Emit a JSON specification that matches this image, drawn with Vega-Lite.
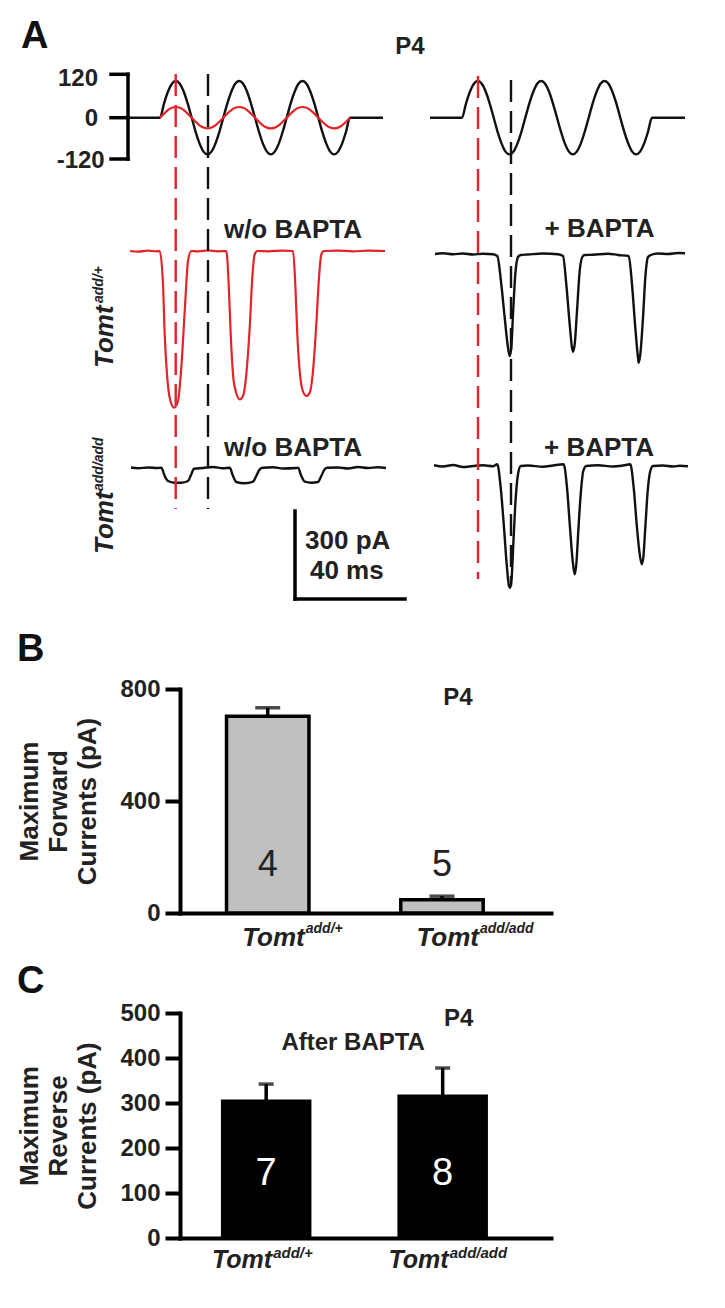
{
  "$schema": "https://vega.github.io/schema/vega-lite/v6.json",
  "padding": {"left": 16, "top": 0, "right": 0, "bottom": 0},
  "background": "white",
  "bounds": "flush",
  "spacing": 100,
  "config": {
    "font": "Liberation Sans",
    "view": {"stroke": "transparent"},
    "text": {"font": "Liberation Sans", "color": "#222"},
    "title": {"font": "Liberation Sans", "color": "#222"},
    "axis": {"labelFont": "Liberation Sans", "titleFont": "Liberation Sans", "grid": false, "domainWidth": 4, "tickWidth": 4, "domainColor": "#000", "tickColor": "#000", "domainCap": "square"}
  },
  "datasets": {
    "traces": [
      {"s": "stimL",
       "x": [130,162,166.0,169.9,173.9,177.8,181.8,185.8,189.7,193.7,197.6,201.6,205.5,209.5,213.5,217.4,221.4,225.3,229.3,233.3,237.2,241.2,245.1,249.1,253.0,257.0,261.0,264.9,268.9,272.8,276.8,280.8,284.7,288.7,292.6,296.6,300.5,304.5,308.5,312.4,316.4,320.3,324.3,328.3,332.2,336.2,340.1,344.1,348.0,352.0,385],
       "y": [116.7,116.7,102.6,90.8,82.8,80.0,82.8,90.8,102.6,116.7,130.8,142.6,150.6,153.4,150.6,142.6,130.8,116.7,102.6,90.8,82.8,80.0,82.8,90.8,102.6,116.7,130.8,142.6,150.6,153.4,150.6,142.6,130.8,116.7,102.6,90.8,82.8,80.0,82.8,90.8,102.6,116.7,130.8,142.6,150.6,153.4,150.6,142.6,130.8,116.7,116.7]},
      {"s": "stimR",
       "x": [432,464,468.0,471.9,475.9,479.8,483.8,487.8,491.7,495.7,499.6,503.6,507.5,511.5,515.5,519.4,523.4,527.3,531.3,535.3,539.2,543.2,547.1,551.1,555.0,559.0,563.0,566.9,570.9,574.8,578.8,582.8,586.7,590.7,594.6,598.6,602.5,606.5,610.5,614.4,618.4,622.3,626.3,630.3,634.2,638.2,642.1,646.1,650.0,654.0,687],
       "y": [116.7,116.7,102.6,90.8,82.8,80.0,82.8,90.8,102.6,116.7,130.8,142.6,150.6,153.4,150.6,142.6,130.8,116.7,102.6,90.8,82.8,80.0,82.8,90.8,102.6,116.7,130.8,142.6,150.6,153.4,150.6,142.6,130.8,116.7,102.6,90.8,82.8,80.0,82.8,90.8,102.6,116.7,130.8,142.6,150.6,153.4,150.6,142.6,130.8,116.7,116.7]},
      {"s": "blkTop",
       "x": [437,445,455,465,475,485,495,499.3,503.3,506.7,510,511.7,513.3,515,517.3,520,522.7,530,545,560,565,568.3,571.7,574,575,576.7,579,581.7,584.3,586.7,595,610,620,630.7,634,637.3,640,640.7,642.3,645,647.3,650,652.7,660,670,680,687],
       "y": [253,252.3,253.3,252.5,253.5,252.8,253.3,255,283.3,316.7,346.7,355,346.7,313.3,273.3,256,254,253.5,252.5,253.3,255,283.3,323.3,346.7,350.7,343.3,310,270,256,254,253.8,252.7,254,255,283.3,326.7,356.7,361.7,353.3,316.7,276.7,256,254,252.5,253,252,252.3]},
      {"s": "blkBotL",
       "x": [133,140,150,160,163.3,166.7,170,176.7,183.3,190,193.3,196,205,215,225,231.7,235,238.3,246.7,255,258.3,261.7,265,275,285,298.3,300,303.3,306.7,313.3,320,323.3,326.7,329.3,340,350,360,370,380,388],
       "y": [466.5,467.3,466.5,467,466.7,475,480,481.7,481.7,480,473.3,467.7,467,466,467.3,466.7,475,481,482.3,480.7,475,468.3,466.7,466.3,467.5,467,466.7,475,480.7,481.7,481,475,468.3,466.7,466.5,467.5,466,467,466.2,467]},
      {"s": "blkBotR",
       "x": [436,445,455,465,475,485,495,499.3,502.7,506,508.7,511,512.3,513.7,515.3,517.3,520,522.7,530,545,555,565.7,569,572,574.7,576.7,578.3,580.3,582.7,585.3,588.3,600,615,625,632.3,635.7,638.7,641.3,643.7,645.3,647.3,649.7,652.3,655,665,675,682,690],
       "y": [464.3,465.5,464,466,465,464.3,465.3,463.3,486.7,526.7,563.3,585,586.7,576.7,543.3,503.3,473.3,465,464.5,465.8,464.5,463.3,486.7,526.7,560,573.3,563.3,530,493.3,470,465,464.3,465.5,464.5,463.3,486.7,523.3,550,563.3,556.7,526.7,490,470,465,464.5,465.5,464.7,465.3]},
      {"s": "stimLr",
       "x": [162,166.0,169.9,173.9,177.8,181.8,185.8,189.7,193.7,197.6,201.6,205.5,209.5,213.5,217.4,221.4,225.3,229.3,233.3,237.2,241.2,245.1,249.1,253.0,257.0,261.0,264.9,268.9,272.8,276.8,280.8,284.7,288.7,292.6,296.6,300.5,304.5,308.5,312.4,316.4,320.3,324.3,328.3,332.2,336.2,340.1,344.1,348.0,352.0],
       "y": [116.7,112.6,109.1,106.8,106.0,106.8,109.1,112.6,116.7,120.8,124.3,126.6,127.4,126.6,124.3,120.8,116.7,112.6,109.1,106.8,106.0,106.8,109.1,112.6,116.7,120.8,124.3,126.6,127.4,126.6,124.3,120.8,116.7,112.6,109.1,106.8,106.0,106.8,109.1,112.6,116.7,120.8,124.3,126.6,127.4,126.6,124.3,120.8,116.7]},
      {"s": "redTop",
       "x": [132,140,150,158,161.7,165,166.7,169,171.7,176,180,183.3,187.3,190,193.3,200,210,220,228.3,230.7,232.7,235,237.7,241.7,245,248.3,251.7,254.3,256.7,259.3,270,285,295,297.3,299.3,301.7,304.3,308.3,311.7,315,318.3,321,323.3,326,340,355,370,387],
       "y": [250,250.6,249.6,250.4,250,283.3,333.3,373.3,396.7,406.7,400,366.7,300,260,250,250.4,249.5,250.3,250,283.3,333.3,373.3,390,398.3,395,373.3,326.7,276.7,253.3,250,250.3,249.6,250,283.3,333.3,370,388.3,395,391.7,370,323.3,276.7,253.3,250,249.6,250.3,249.7,250]}
    ],
    "segs": [
      {"x": 130, "y": 73.3, "x2": 130, "y2": 158},
      {"x": 113, "y": 73.3, "x2": 130, "y2": 73.3},
      {"x": 113, "y": 116.7, "x2": 130, "y2": 116.7},
      {"x": 113, "y": 158, "x2": 130, "y2": 158},
      {"x": 297, "y": 510, "x2": 297, "y2": 598},
      {"x": 297, "y": 598, "x2": 407, "y2": 598}
    ],
    "dashes": [
      {"s": "redDash", "x": 177.7, "y": 73, "x2": 177.7, "y2": 508},
      {"s": "blkDash", "x": 210, "y": 73, "x2": 210, "y2": 508},
      {"s": "redDash", "x": 480, "y": 75, "x2": 480, "y2": 578},
      {"s": "blkDash", "x": 513, "y": 79, "x2": 513, "y2": 585}
    ]
  },
  "vconcat": [
    {
      "width": 543,
      "height": 588,
      "encoding": {
        "x": {"field": "x", "type": "quantitative", "scale": {"domain": [182, 725], "nice": false, "zero": false}, "axis": null},
        "y": {"field": "y", "type": "quantitative", "scale": {"domain": [0, 588], "nice": false, "zero": false, "reverse": true}, "axis": null}
      },
      "layer": [
        {
          "data": {"name": "traces"},
          "transform": [{"filter": {"field": "s", "oneOf": ["stimL", "stimR", "blkTop", "blkBotL", "blkBotR"]}}, {"flatten": ["x", "y"]}],
          "mark": {"type": "line", "strokeWidth": 2.4, "interpolate": "monotone"},
          "encoding": {"color": {"field": "s", "type": "nominal", "legend": null,
            "scale": {"domain": ["stimL","stimR","blkTop","blkBotL","blkBotR","blkDash","stimLr","redTop","redDash"], "range": ["#111","#111","#111","#111","#111","#111","#e2232a","#e2232a","#e2232a"]}}}
        },
        {
          "data": {"name": "traces"},
          "transform": [{"filter": {"field": "s", "oneOf": ["stimLr", "redTop"]}}, {"flatten": ["x", "y"]}],
          "mark": {"type": "line", "strokeWidth": 2.2, "interpolate": "monotone"},
          "encoding": {"color": {"field": "s", "type": "nominal", "legend": null,
            "scale": {"domain": ["stimL","stimR","blkTop","blkBotL","blkBotR","blkDash","stimLr","redTop","redDash"], "range": ["#111","#111","#111","#111","#111","#111","#e2232a","#e2232a","#e2232a"]}}}
        },
        {
          "data": {"name": "segs"},
          "mark": {"type": "rule", "strokeWidth": 3.5, "color": "#000", "strokeCap": "square"},
          "encoding": {"x2": {"field": "x2"}, "y2": {"field": "y2"}}
        },
        {
          "data": {"name": "dashes"},
          "mark": {"type": "rule", "strokeWidth": 2.4, "strokeDash": [22, 9]},
          "encoding": {"x2": {"field": "x2"}, "y2": {"field": "y2"},
            "color": {"field": "s", "type": "nominal", "legend": null,
              "scale": {"domain": ["stimL","stimR","blkTop","blkBotL","blkBotR","blkDash","stimLr","redTop","redDash"], "range": ["#111","#111","#111","#111","#111","#111","#e2232a","#e2232a","#e2232a"]}}}
        },
        {
          "data": {"values": [{"t": "A", "x": 23, "y": 47}]},
          "mark": {"type": "text", "fontSize": 38, "fontWeight": "bold", "align": "left", "baseline": "alphabetic", "color": "#111"},
          "encoding": {"text": {"field": "t"}}
        },
        {
          "data": {"values": [{"t": "P4", "x": 412, "y": 53}]},
          "mark": {"type": "text", "fontSize": 24, "fontWeight": "bold", "align": "center", "baseline": "alphabetic"},
          "encoding": {"text": {"field": "t"}}
        },
        {
          "data": {"values": [{"t": "120", "x": 100, "y": 85}, {"t": "0", "x": 100, "y": 124.7}, {"t": "-120", "x": 106.7, "y": 166.7}]},
          "mark": {"type": "text", "fontSize": 24, "fontWeight": "bold", "align": "right", "baseline": "alphabetic"},
          "encoding": {"text": {"field": "t"}}
        },
        {
          "data": {"values": [
            {"t": "w/o BAPTA", "x": 295, "y": 236.7},
            {"t": "+ BAPTA", "x": 601.5, "y": 235.7},
            {"t": "w/o BAPTA", "x": 295, "y": 455},
            {"t": "+ BAPTA", "x": 601, "y": 455},
            {"t": "300 pA", "x": 349.7, "y": 548.3},
            {"t": "40 ms", "x": 348.8, "y": 578.3}
          ]},
          "mark": {"type": "text", "fontSize": 26, "fontWeight": "bold", "align": "center", "baseline": "alphabetic"},
          "encoding": {"text": {"field": "t"}}
        },
        {
          "data": {"values": [{"t": "Tomt", "x": 115, "y": 367}, {"t": "Tomt", "x": 115, "y": 553}]},
          "mark": {"type": "text", "fontSize": 26, "fontWeight": "bold", "fontStyle": "italic", "angle": 270, "align": "left", "baseline": "alphabetic"},
          "encoding": {"text": {"field": "t"}}
        },
        {
          "data": {"values": [{"t": "add/+", "x": 105, "y": 302}, {"t": "add/add", "x": 105, "y": 490}]},
          "mark": {"type": "text", "fontSize": 14, "fontWeight": "bold", "fontStyle": "italic", "angle": 270, "align": "left", "baseline": "alphabetic"},
          "encoding": {"text": {"field": "t"}}
        }
      ]
    },
    {
      "width": 371,
      "height": 224,
      "title": {"text": "B", "anchor": "start", "frame": "bounds", "fontSize": 38, "fontWeight": "bold", "offset": 8, "color": "#111"},
      "data": {"values": [
        {"g": "add/+", "mean": 703, "upper": 733, "n": "4"},
        {"g": "add/add", "mean": 47.5, "upper": 60, "n": "5"}
      ]},
      "encoding": {
        "x": {"field": "g", "type": "nominal", "scale": {"paddingInner": 0.527, "paddingOuter": 0.328, "align": 0.407},
          "axis": {"labels": false, "ticks": false, "title": null, "domainWidth": 4, "domainColor": "#000", "domainCap": "square"}}
      },
      "layer": [
        {
          "mark": {"type": "bar", "fill": "#c0c0c0", "stroke": "#000", "strokeWidth": 3.5},
          "encoding": {
            "y": {"field": "mean", "type": "quantitative", "scale": {"domain": [0, 800], "nice": false},
              "axis": {"values": [0, 400, 800], "tickSize": 15, "tickWidth": 4, "tickColor": "#000", "domainWidth": 4, "domainColor": "#000", "domainCap": "square",
                "labelFontSize": 24, "labelFontWeight": "bold", "labelPadding": 5, "labelColor": "#222", "labelOverlap": false,
                "title": ["Maximum", "Forward", "Currents (pA)"], "titleFontSize": 26, "titleFontWeight": "bold", "titleLineHeight": 29, "titlePadding": 19, "titleColor": "#222"}}
          }
        },
        {
          "mark": {"type": "rule", "strokeWidth": 3.5, "color": "#000"},
          "encoding": {
            "y": {"field": "mean", "type": "quantitative", "scale": {"domain": [0, 800], "nice": false},
              "axis": {"values": [0, 400, 800], "tickSize": 15, "tickWidth": 4, "tickColor": "#000", "domainWidth": 4, "domainColor": "#000", "domainCap": "square",
                "labelFontSize": 24, "labelFontWeight": "bold", "labelPadding": 5, "labelColor": "#222", "labelOverlap": false,
                "title": ["Maximum", "Forward", "Currents (pA)"], "titleFontSize": 26, "titleFontWeight": "bold", "titleLineHeight": 29, "titlePadding": 19, "titleColor": "#222"}},
            "y2": {"field": "upper"}
          }
        },
        {
          "mark": {"type": "tick", "size": 25, "thickness": 3.5, "color": "#000"},
          "encoding": {
            "y": {"field": "upper", "type": "quantitative", "scale": {"domain": [0, 800], "nice": false},
              "axis": {"values": [0, 400, 800], "tickSize": 15, "tickWidth": 4, "tickColor": "#000", "domainWidth": 4, "domainColor": "#000", "domainCap": "square",
                "labelFontSize": 24, "labelFontWeight": "bold", "labelPadding": 5, "labelColor": "#222", "labelOverlap": false,
                "title": ["Maximum", "Forward", "Currents (pA)"], "titleFontSize": 26, "titleFontWeight": "bold", "titleLineHeight": 29, "titlePadding": 19, "titleColor": "#222"}}
          }
        },
        {
          "mark": {"type": "text", "fontSize": 36, "baseline": "middle", "color": "#222"},
          "encoding": {
            "y": {"datum": 170, "type": "quantitative", "scale": {"domain": [0, 800], "nice": false},
              "axis": {"values": [0, 400, 800], "tickSize": 15, "tickWidth": 4, "tickColor": "#000", "domainWidth": 4, "domainColor": "#000", "domainCap": "square",
                "labelFontSize": 24, "labelFontWeight": "bold", "labelPadding": 5, "labelColor": "#222", "labelOverlap": false,
                "title": ["Maximum", "Forward", "Currents (pA)"], "titleFontSize": 26, "titleFontWeight": "bold", "titleLineHeight": 29, "titlePadding": 19, "titleColor": "#222"}},
            "text": {"field": "n"}
          }
        },
        {
          "mark": {"type": "text", "text": "Tomt", "fontSize": 26, "fontWeight": "bold", "fontStyle": "italic", "align": "right", "dx": 37, "baseline": "alphabetic"},
          "encoding": {
            "y": {"datum": -119, "type": "quantitative", "scale": {"domain": [0, 800], "nice": false},
              "axis": {"values": [0, 400, 800], "tickSize": 15, "tickWidth": 4, "tickColor": "#000", "domainWidth": 4, "domainColor": "#000", "domainCap": "square",
                "labelFontSize": 24, "labelFontWeight": "bold", "labelPadding": 5, "labelColor": "#222", "labelOverlap": false,
                "title": ["Maximum", "Forward", "Currents (pA)"], "titleFontSize": 26, "titleFontWeight": "bold", "titleLineHeight": 29, "titlePadding": 19, "titleColor": "#222"}}
          }
        },
        {
          "mark": {"type": "text", "fontSize": 14, "fontWeight": "bold", "fontStyle": "italic", "align": "left", "dx": 38, "baseline": "alphabetic"},
          "encoding": {
            "y": {"datum": -72.5, "type": "quantitative", "scale": {"domain": [0, 800], "nice": false},
              "axis": {"values": [0, 400, 800], "tickSize": 15, "tickWidth": 4, "tickColor": "#000", "domainWidth": 4, "domainColor": "#000", "domainCap": "square",
                "labelFontSize": 24, "labelFontWeight": "bold", "labelPadding": 5, "labelColor": "#222", "labelOverlap": false,
                "title": ["Maximum", "Forward", "Currents (pA)"], "titleFontSize": 26, "titleFontWeight": "bold", "titleLineHeight": 29, "titlePadding": 19, "titleColor": "#222"}},
            "text": {"field": "g"}
          }
        },
        {
          "data": {"values": [{"t": "P4", "g": "add/add"}]},
          "mark": {"type": "text", "fontSize": 24, "fontWeight": "bold", "dx": 16, "baseline": "middle"},
          "encoding": {
            "y": {"datum": 767, "type": "quantitative", "scale": {"domain": [0, 800], "nice": false},
              "axis": {"values": [0, 400, 800], "tickSize": 15, "tickWidth": 4, "tickColor": "#000", "domainWidth": 4, "domainColor": "#000", "domainCap": "square",
                "labelFontSize": 24, "labelFontWeight": "bold", "labelPadding": 5, "labelColor": "#222", "labelOverlap": false,
                "title": ["Maximum", "Forward", "Currents (pA)"], "titleFontSize": 26, "titleFontWeight": "bold", "titleLineHeight": 29, "titlePadding": 19, "titleColor": "#222"}},
            "text": {"field": "t"}
          }
        }
      ]
    },
    {
      "width": 371,
      "height": 225,
      "title": {"text": "C", "anchor": "start", "frame": "bounds", "fontSize": 38, "fontWeight": "bold", "offset": 0, "color": "#111"},
      "data": {"values": [
        {"g": "add/+", "mean": 304, "upper": 342, "n": "7"},
        {"g": "add/add", "mean": 315, "upper": 378, "n": "8"}
      ]},
      "encoding": {
        "x": {"field": "g", "type": "nominal", "scale": {"paddingInner": 0.507, "paddingOuter": 0.3045, "align": 0.397},
          "axis": {"labels": false, "ticks": false, "title": null, "domainWidth": 4, "domainColor": "#000", "domainCap": "square"}}
      },
      "layer": [
        {
          "mark": {"type": "bar", "fill": "#000", "stroke": "#000", "strokeWidth": 3.5},
          "encoding": {
            "y": {"field": "mean", "type": "quantitative", "scale": {"domain": [0, 500], "nice": false},
              "axis": {"values": [0, 100, 200, 300, 400, 500], "tickSize": 15, "tickWidth": 4, "tickColor": "#000", "domainWidth": 4, "domainColor": "#000", "domainCap": "square",
                "labelFontSize": 24, "labelFontWeight": "bold", "labelPadding": 5, "labelColor": "#222", "labelOverlap": false,
                "title": ["Maximum", "Reverse", "Currents (pA)"], "titleFontSize": 26, "titleFontWeight": "bold", "titleLineHeight": 29, "titlePadding": 19, "titleColor": "#222"}}
          }
        },
        {
          "mark": {"type": "rule", "strokeWidth": 3.5, "color": "#000"},
          "encoding": {
            "y": {"field": "mean", "type": "quantitative", "scale": {"domain": [0, 500], "nice": false},
              "axis": {"values": [0, 100, 200, 300, 400, 500], "tickSize": 15, "tickWidth": 4, "tickColor": "#000", "domainWidth": 4, "domainColor": "#000", "domainCap": "square",
                "labelFontSize": 24, "labelFontWeight": "bold", "labelPadding": 5, "labelColor": "#222", "labelOverlap": false,
                "title": ["Maximum", "Reverse", "Currents (pA)"], "titleFontSize": 26, "titleFontWeight": "bold", "titleLineHeight": 29, "titlePadding": 19, "titleColor": "#222"}},
            "y2": {"field": "upper"}
          }
        },
        {
          "mark": {"type": "tick", "size": 15, "thickness": 3.5, "color": "#000"},
          "encoding": {
            "y": {"field": "upper", "type": "quantitative", "scale": {"domain": [0, 500], "nice": false},
              "axis": {"values": [0, 100, 200, 300, 400, 500], "tickSize": 15, "tickWidth": 4, "tickColor": "#000", "domainWidth": 4, "domainColor": "#000", "domainCap": "square",
                "labelFontSize": 24, "labelFontWeight": "bold", "labelPadding": 5, "labelColor": "#222", "labelOverlap": false,
                "title": ["Maximum", "Reverse", "Currents (pA)"], "titleFontSize": 26, "titleFontWeight": "bold", "titleLineHeight": 29, "titlePadding": 19, "titleColor": "#222"}}
          }
        },
        {
          "mark": {"type": "text", "fontSize": 38, "baseline": "middle", "color": "#fff"},
          "encoding": {
            "y": {"datum": 142, "type": "quantitative", "scale": {"domain": [0, 500], "nice": false},
              "axis": {"values": [0, 100, 200, 300, 400, 500], "tickSize": 15, "tickWidth": 4, "tickColor": "#000", "domainWidth": 4, "domainColor": "#000", "domainCap": "square",
                "labelFontSize": 24, "labelFontWeight": "bold", "labelPadding": 5, "labelColor": "#222", "labelOverlap": false,
                "title": ["Maximum", "Reverse", "Currents (pA)"], "titleFontSize": 26, "titleFontWeight": "bold", "titleLineHeight": 29, "titlePadding": 19, "titleColor": "#222"}},
            "text": {"field": "n"}
          }
        },
        {
          "mark": {"type": "text", "text": "Tomt", "fontSize": 25, "fontWeight": "bold", "fontStyle": "italic", "align": "right", "dx": 6, "baseline": "alphabetic"},
          "encoding": {
            "y": {"datum": -67, "type": "quantitative", "scale": {"domain": [0, 500], "nice": false},
              "axis": {"values": [0, 100, 200, 300, 400, 500], "tickSize": 15, "tickWidth": 4, "tickColor": "#000", "domainWidth": 4, "domainColor": "#000", "domainCap": "square",
                "labelFontSize": 24, "labelFontWeight": "bold", "labelPadding": 5, "labelColor": "#222", "labelOverlap": false,
                "title": ["Maximum", "Reverse", "Currents (pA)"], "titleFontSize": 26, "titleFontWeight": "bold", "titleLineHeight": 29, "titlePadding": 19, "titleColor": "#222"}}
          }
        },
        {
          "mark": {"type": "text", "fontSize": 15, "fontWeight": "bold", "fontStyle": "italic", "align": "left", "dx": 7, "baseline": "alphabetic"},
          "encoding": {
            "y": {"datum": -45, "type": "quantitative", "scale": {"domain": [0, 500], "nice": false},
              "axis": {"values": [0, 100, 200, 300, 400, 500], "tickSize": 15, "tickWidth": 4, "tickColor": "#000", "domainWidth": 4, "domainColor": "#000", "domainCap": "square",
                "labelFontSize": 24, "labelFontWeight": "bold", "labelPadding": 5, "labelColor": "#222", "labelOverlap": false,
                "title": ["Maximum", "Reverse", "Currents (pA)"], "titleFontSize": 26, "titleFontWeight": "bold", "titleLineHeight": 29, "titlePadding": 19, "titleColor": "#222"}},
            "text": {"field": "g"}
          }
        },
        {
          "data": {"values": [{"t": "P4", "g": "add/add"}]},
          "mark": {"type": "text", "fontSize": 24, "fontWeight": "bold", "dx": 16, "baseline": "middle"},
          "encoding": {
            "y": {"datum": 486, "type": "quantitative", "scale": {"domain": [0, 500], "nice": false},
              "axis": {"values": [0, 100, 200, 300, 400, 500], "tickSize": 15, "tickWidth": 4, "tickColor": "#000", "domainWidth": 4, "domainColor": "#000", "domainCap": "square",
                "labelFontSize": 24, "labelFontWeight": "bold", "labelPadding": 5, "labelColor": "#222", "labelOverlap": false,
                "title": ["Maximum", "Reverse", "Currents (pA)"], "titleFontSize": 26, "titleFontWeight": "bold", "titleLineHeight": 29, "titlePadding": 19, "titleColor": "#222"}},
            "text": {"field": "t"}
          }
        },
        {
          "data": {"values": [{"t": "After BAPTA", "g": "add/+"}]},
          "mark": {"type": "text", "fontSize": 24, "fontWeight": "bold", "dx": 87, "baseline": "middle"},
          "encoding": {
            "y": {"datum": 433, "type": "quantitative", "scale": {"domain": [0, 500], "nice": false},
              "axis": {"values": [0, 100, 200, 300, 400, 500], "tickSize": 15, "tickWidth": 4, "tickColor": "#000", "domainWidth": 4, "domainColor": "#000", "domainCap": "square",
                "labelFontSize": 24, "labelFontWeight": "bold", "labelPadding": 5, "labelColor": "#222", "labelOverlap": false,
                "title": ["Maximum", "Reverse", "Currents (pA)"], "titleFontSize": 26, "titleFontWeight": "bold", "titleLineHeight": 29, "titlePadding": 19, "titleColor": "#222"}},
            "text": {"field": "t"}
          }
        }
      ]
    }
  ]
}
